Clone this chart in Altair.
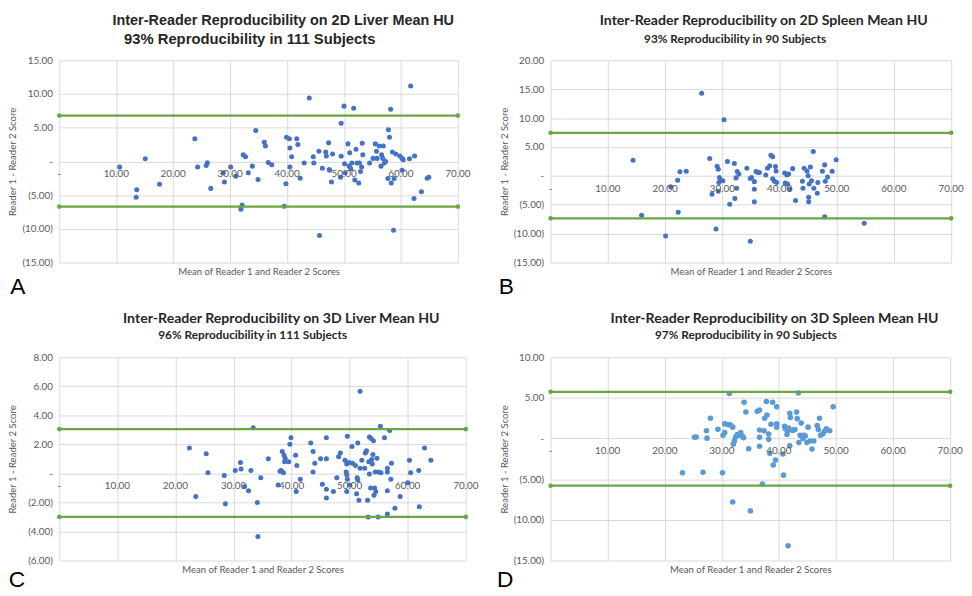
import altair as alt
import pandas as pd

# ---------------- data ----------------
x_ticks = [0, 10, 20, 30, 40, 50, 60, 70]
x_tick_labels = ["-", "10.00", "20.00", "30.00", "40.00", "50.00", "60.00", "70.00"]

# Panel A: 2D Liver
a_x = [10.6, 13.6, 13.5, 15.1, 17.6, 23.8, 24.3, 25.8, 26.0, 26.6,
       28.8, 29.0, 30.1, 31.0, 32.3, 32.7, 32.1, 31.9, 33.2, 33.9,
       34.5, 34.9, 36.0, 36.2, 36.7, 37.3, 39.5, 39.8, 39.9, 40.4,
       40.5, 40.5, 40.8, 41.7, 41.9, 42.3, 43.0, 43.9, 44.6, 44.7,
       45.6, 45.7, 46.2, 46.8, 46.9, 47.3, 47.4, 47.5, 47.8, 48.0,
       49.5, 49.5, 49.4, 50.0, 50.1, 50.2, 50.7, 51.0, 50.9, 51.2,
       51.4, 51.7, 51.9, 52.1, 52.3, 52.6, 52.7, 52.9, 53.1, 53.2,
       53.3, 54.5, 55.1, 55.5, 55.7, 55.8, 56.2, 56.5, 56.6, 56.8,
       56.9, 57.1, 57.3, 57.7, 57.8, 58.0, 58.2, 58.3, 58.5, 58.7,
       58.8, 59.1, 59.8, 60.2, 60.2, 60.4, 61.5, 61.7, 62.3, 62.4,
       63.6, 64.6, 64.9]
a_y = [-0.84, -4.2, -5.3, 0.4, -3.4, 3.35, -0.84, -0.6, -0.2, -4.0,
       -1.7, -3.05, -0.84, -2.2, 1.0, 0.7, -6.45, -7.1, -1.7, -0.7,
       4.6, -2.7, 2.85, 2.3, -0.15, -0.5, -6.65, -3.3, 3.6, 3.35,
       2.0, -0.84, 0.7, 3.35, 2.5, -2.5, -0.25, 9.4, 0.7, -0.25,
       1.5, -11.0, -1.0, 1.4, 0.8, 2.75, -1.2, -1.3, -3.05, 1.1,
       5.65, 0.75, -2.35, 8.2, -0.35, -1.7, 2.6, 1.3, -0.7, -1.1,
       -0.25, 7.9, -2.75, 1.8, -0.25, -3.2, -0.25, -1.5, -0.84, 2.7,
       1.0, -0.25, 0.45, 2.6, 1.5, 0.45, 2.3, -0.7, 1.0, 0.45,
       2.3, -0.25, 0.0, -2.55, 4.7, 3.6, 7.75, -3.2, 1.4, -10.2,
       -2.55, 1.1, 0.8, 0.45, -1.3, 0.25, 0.4, 11.2, -5.5, 0.8,
       -4.5, -2.5, -2.35]
a_loa = [6.8, -6.7]
a_yticks = [-15, -10, -5, 0, 5, 10, 15]

# Panel B: 2D Spleen
b_x = [14.4, 15.9, 20.1, 21.0, 22.2, 22.3, 22.6, 23.7, 26.4, 27.8,
       28.2, 28.9, 29.1, 29.3, 29.3, 29.4, 29.5, 29.7, 30.1, 30.3,
       30.9, 31.3, 32.1, 32.2, 32.4, 32.5, 32.6, 32.9, 34.3, 34.9,
       34.9, 35.1, 35.6, 35.6, 35.6, 35.9, 36.2, 36.5, 37.6, 37.9,
       38.3, 38.5, 38.8, 38.8, 39.1, 39.3, 39.4, 39.5, 40.9, 41.0,
       41.3, 41.4, 41.6, 41.8, 42.3, 42.8, 44.0, 44.1, 44.3, 44.8,
       45.0, 45.1, 45.1, 45.2, 45.4, 45.6, 45.9, 46.0, 46.6, 46.7,
       47.5, 47.9, 47.9, 48.0, 48.4, 49.2, 49.9, 54.8]
b_y = [2.7, -6.8, -10.4, -1.9, -0.75, -6.3, 0.7, 0.8, 14.3, 3.0,
       -3.2, -9.2, 1.65, 1.15, -2.65, -1.15, -0.3, -0.7, -0.85, 9.7,
       2.5, -4.9, 2.15, -3.9, -0.35, -2.15, 0.75, 0.3, 1.3, -0.45,
       -11.3, -0.3, -2.3, -4.5, -1.0, 0.75, 0.6, 0.6, 0.15, 1.3,
       1.75, 3.55, 3.3, -0.5, -0.95, 1.6, 0.85, -1.15, 0.5, -1.25,
       0.15, -1.4, 0.3, -2.3, 1.25, -4.25, -0.95, -2.15, 1.3, 0.85,
       0.0, -3.7, -4.5, -1.4, 1.55, -0.85, 4.2, -2.15, -3.0, -1.15,
       0.8, 1.9, -7.1, -0.95, -0.2, 0.8, 2.8, -8.2]
b_loa = [7.45, -7.35]
b_yticks = [-15, -10, -5, 0, 5, 10, 15, 20]

# Panel C: 3D Liver
c_x = [22.4, 23.5, 25.3, 25.6, 28.4, 28.6, 30.3, 31.2, 31.3, 31.9,
       32.6, 33.0, 33.4, 34.1, 34.2, 34.7, 36.0, 37.7, 38.0, 38.2,
       38.4, 38.6, 38.7, 38.9, 38.8, 39.5, 39.7, 39.9, 40.7, 40.8,
       40.9, 41.5, 43.3, 43.7, 43.7, 44.0, 45.0, 45.3, 46.0, 46.0,
       46.0, 46.0, 47.2, 47.8, 48.1, 48.4, 49.2, 49.4, 49.5, 49.5,
       49.6, 49.6, 49.5, 49.9, 50.0, 50.4, 50.5, 51.0, 51.2, 51.3,
       51.4, 51.4, 51.6, 51.8, 51.8, 52.1, 52.6, 52.7, 52.9, 53.1,
       53.2, 53.3, 53.4, 53.4, 53.6, 53.7, 53.8, 53.9, 54.0, 54.1,
       54.2, 54.3, 54.4, 54.5, 54.7, 54.9, 55.0, 55.3, 55.4, 56.0,
       56.5, 56.5, 56.5, 56.5, 56.9, 57.1, 57.2, 57.8, 58.7, 60.0,
       60.3, 60.5, 61.9, 62.0, 62.9, 64.0]
c_y = [1.75, -1.6, 1.35, 0.05, -0.15, -2.1, 0.2, 0.75, 0.3, -0.9,
       -1.2, 0.2, 3.15, -2.0, -4.35, -0.3, 1.0, -0.8, 0.15, 0.2,
       1.5, 0.05, 1.25, 1.05, 0.8, 0.8, 2.0, 2.45, 1.25, -1.25,
       0.55, -0.4, 2.1, 1.5, 0.1, 0.7, 1.0, -0.75, 2.45, 1.0,
       -1.1, -1.7, -1.25, -0.3, 1.15, 1.4, 0.9, 0.1, 0.65, -0.1,
       2.55, -0.4, -1.25, 0.75, -0.8, 1.85, 0.7, 0.55, -1.4, -0.3,
       2.1, -0.45, -1.85, 5.65, 0.35, 0.9, 0.35, 1.4, 1.55, -1.85,
       -3.0, 0.8, 2.5, -0.05, -1.0, 2.4, 0.95, 0.65, 1.3, 2.25,
       -1.5, -1.0, 0.1, -1.25, 1.05, -3.0, 0.1, 3.25, 0.05, 2.45,
       0.35, 0.1, -1.2, -2.8, 2.95, -0.4, 0.7, -2.4, -1.6, -0.65,
       0.9, 0.05, 0.2, -2.3, 1.75, 0.9]
c_loa = [3.05, -3.0]
c_yticks = [-6, -4, -2, 0, 2, 4, 6, 8]

# Panel D: 3D Spleen
d_x = [23.1, 25.2, 25.5, 26.7, 27.3, 27.4, 28.0, 29.3, 30.1, 30.2,
       30.5, 30.5, 31.1, 31.3, 31.5, 31.9, 31.9, 32.0, 32.2, 32.4,
       32.7, 33.0, 33.3, 33.6, 33.8, 33.9, 34.2, 34.7, 35.0, 36.2,
       36.6, 36.6, 36.6, 36.6, 37.1, 37.4, 37.5, 37.8, 37.9, 38.2,
       38.2, 38.4, 38.6, 38.9, 39.0, 39.4, 39.6, 39.6, 39.6, 40.7,
       40.8, 41.0, 41.1, 41.4, 41.5, 41.6, 41.7, 41.9, 42.0, 41.9,
       42.4, 42.8, 43.1, 43.2, 43.4, 43.5, 43.7, 43.9, 44.2, 44.4,
       44.6, 44.9, 45.1, 45.5, 45.8, 46.1, 46.7, 46.9, 47.1, 47.3,
       47.7, 48.0, 48.3, 48.9, 49.5]
d_y = [-4.2, 0.15, 0.2, -4.15, 0.95, 0.05, 2.5, 1.15, -4.2, 0.4,
       0.75, 1.8, 1.7, 5.55, 1.7, 1.4, -7.8, -0.7, -0.3, 0.2,
       0.5, 0.4, 0.75, 0.3, 0.1, 4.45, 3.25, -1.25, -8.9, 3.35,
       3.5, 1.05, 0.15, -0.95, -5.6, 0.95, 2.5, 4.55, 2.9, 0.55,
       -0.1, -1.8, 1.75, 4.45, -3.25, -2.65, 3.9, 1.8, 1.4, -1.9,
       -4.5, 1.5, 1.2, 0.5, 0.9, -13.2, 1.3, 3.1, 2.6, -0.9,
       1.0, 1.1, 3.25, 2.45, 5.6, -0.5, 0.4, 1.9, 0.0, 0.4,
       0.3, -0.5, 1.4, -0.3, -1.3, -0.3, 1.6, 1.1, 2.5, 0.4,
       0.6, 0.9, 1.2, 0.95, 3.9]
d_loa = [5.75, -5.8]
d_yticks = [-15, -10, -5, 0, 5, 10]

titles = {
    "A": ["Inter-Reader Reproducibility on 2D Liver Mean HU", "93% Reproducibility in 111 Subjects"],
    "B": ["Inter-Reader Reproducibility on 2D Spleen Mean HU", "93% Reproducibility in 90 Subjects"],
    "C": ["Inter-Reader Reproducibility on 3D Liver Mean HU", "96% Reproducibility in 111 Subjects"],
    "D": ["Inter-Reader Reproducibility on 3D Spleen Mean HU", "97% Reproducibility in 90 Subjects"],
}
x_title = "Mean of Reader 1 and Reader 2 Scores"
y_title = "Reader 1 - Reader 2 Score"

GRID = "#d9d9d9"
LABEL = "#595959"
GREEN = "#6aa642"

Y_LABEL_EXPR = ("datum.value == 0 ? '-\u00a0\u00a0\u00a0' : (datum.value < 0 ? '(' + format(-datum.value, '.2f') + ')' "
                ": format(datum.value, '.2f') + '\u00a0')")


def panel(letter, xs, ys, loa, yticks, w, h, color, size,
          t1_pos, t2_pos, t_font, t1_size, t2_size, letter_pos):
    ydom = [yticks[0], yticks[-1]]
    xsc = alt.Scale(domain=[0, 70], nice=False, zero=False)
    ysc = alt.Scale(domain=ydom, nice=False, zero=False)
    xax = alt.Axis(
        values=x_ticks, labels=False, ticks=False, domain=False, grid=True,
        gridColor=GRID, gridWidth=1, title=x_title, titleFontSize=9.7,
        titleFontWeight="normal", titleColor=LABEL, titlePadding=4,
        minExtent=0, maxExtent=0)
    yax = alt.Axis(
        values=yticks, labelExpr=Y_LABEL_EXPR, ticks=False, domain=False,
        grid=True, gridColor=GRID, gridWidth=1, labelFontSize=10,
        labelColor=LABEL, labelPadding=7, title=y_title, titleFontSize=9.7,
        titleFontWeight="normal", titleColor=LABEL, titlePadding=8,
        minExtent=34, maxExtent=34)

    def xe():
        return alt.X("x:Q", scale=xsc, axis=xax)

    def ye():
        return alt.Y("y:Q", scale=ysc, axis=yax)

    pts = pd.DataFrame({"x": xs, "y": ys})
    points = alt.Chart(pts).mark_circle(size=size, opacity=1, color=color).encode(x=xe(), y=ye())

    loa_df = pd.DataFrame({"x": [0] * len(loa), "x2": [70] * len(loa), "y": loa})
    rules = alt.Chart(loa_df).mark_rule(color=GREEN, strokeWidth=2.2).encode(
        x=xe(), x2="x2:Q", y=ye())
    ends_df = pd.DataFrame({"x": [0, 70] * len(loa), "y": [v for v in loa for _ in (0, 1)]})
    ends = alt.Chart(ends_df).mark_circle(size=22, opacity=1, color=GREEN).encode(x=xe(), y=ye())

    xl_df = pd.DataFrame({"x": x_ticks, "y": [0] * len(x_ticks), "t": x_tick_labels})
    xlabels = alt.Chart(xl_df).mark_text(fontSize=10, color=LABEL, dy=13, baseline="middle").encode(
        x=xe(), y=ye(), text="t:N")

    t = titles[letter]
    tdf = pd.DataFrame({"t": [t[0]]})
    title1 = alt.Chart(tdf).mark_text(font=t_font, fontSize=t1_size, fontWeight="bold",
                                      color="#262626", baseline="middle", align="center").encode(
        x=alt.value(t1_pos[0]), y=alt.value(t1_pos[1]), text="t:N")
    tdf2 = pd.DataFrame({"t": [t[1]]})
    title2 = alt.Chart(tdf2).mark_text(font=t_font, fontSize=t2_size, fontWeight="bold",
                                       color="#262626", baseline="middle", align="center").encode(
        x=alt.value(t2_pos[0]), y=alt.value(t2_pos[1]), text="t:N")
    ldf = pd.DataFrame({"t": [letter]})
    lab = alt.Chart(ldf).mark_text(font="Liberation Sans", fontSize=23, color="black",
                                   baseline="middle", align="center").encode(
        x=alt.value(letter_pos[0]), y=alt.value(letter_pos[1]), text="t:N")

    return alt.layer(points, rules, ends, xlabels, title1, title2, lab).properties(width=w, height=h)


pa = panel("A", a_x, a_y, a_loa, a_yticks, 404, 205, "#4472C4", 26,
           (227, -40), (193, -22), "Liberation Sans", 14.6, 15, (-42, 230))
pb = panel("B", b_x, b_y, b_loa, b_yticks, 406, 205, "#4472C4", 26,
           (216, -40), (187, -22), "Lato", 14.3, 12, (-45, 230))
pc = panel("C", c_x, c_y, c_loa, c_yticks, 412, 206, "#4472C4", 26,
           (225, -39), (196, -22), "Lato", 14.3, 12, (-43, 226))
pd_ = panel("D", d_x, d_y, d_loa, d_yticks, 405, 206, "#5B9BD5", 32,
            (227, -39), (198, -22), "Lato", 14.3, 12, (-46, 226))

chart = alt.concat(pa, pb, pc, pd_, columns=2, bounds="flush",
                   spacing={"row": 96, "column": 86}).properties(
    padding={"left": 0, "top": 1, "right": 0, "bottom": 0}
).configure(font="Lato", background="white").configure_view(strokeWidth=0)

chart.save("out.html", embed_options={"renderer": "svg", "actions": False})
